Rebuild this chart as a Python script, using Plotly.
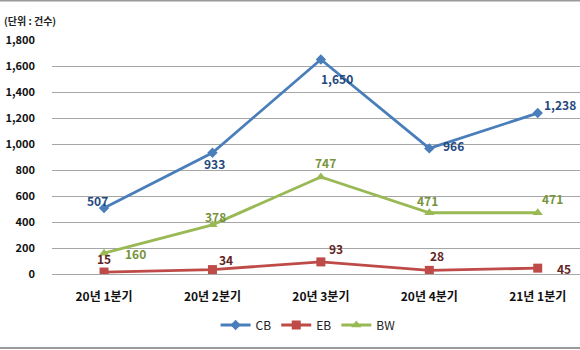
import plotly.graph_objects as go

# Quarterly counts by bond type
categories = ["20년 1분기", "20년 2분기", "20년 3분기", "20년 4분기", "21년 1분기"]
cb_values = [507, 933, 1650, 966, 1238]
eb_values = [15, 34, 93, 28, 45]
bw_values = [160, 378, 747, 471, 471]
y_ticks = [0, 200, 400, 600, 800, 1000, 1200, 1400, 1600, 1800]
unit_note = "(단위 : 건수)"

FONT = "Noto Sans CJK KR"

series = [
    # name, values, line colour, label colour, marker symbol, marker size, label offsets (px)
    ("CB", cb_values, "#4a7ebb", "#1f497d", "diamond", 8,
     [(-7, 8), (2, -11), (16, -19), (24, 3), (22, 9)]),
    ("EB", eb_values, "#be4b48", "#632523", "square", 9,
     [(0, 14), (14, 10), (15, 13), (8, 15), (26, 0)]),
    ("BW", bw_values, "#98b954", "#77933c", "triangle-up", 9,
     [(31, 0), (3, 8), (5, 14), (-2, 12), (15, 14)]),
]

fig = go.Figure()
annotations = []
for name, vals, color, lcolor, symbol, msize, offsets in series:
    fig.add_trace(go.Scatter(
        x=list(range(len(categories))), y=vals, name=name, mode="lines+markers",
        line=dict(color=color, width=2.8),
        marker=dict(symbol=symbol, size=msize, color=color),
    ))
    for i, (v, (dx, dy)) in enumerate(zip(vals, offsets)):
        annotations.append(dict(
            x=i, y=v, xref="x", yref="y", text=f"{v:,}", showarrow=False,
            xshift=dx, yshift=dy,
            font=dict(family=FONT, size=12, color=lcolor, weight="bold"),
        ))

annotations.append(dict(
    x=-0.094, y=1.085, xref="paper", yref="paper", text=unit_note,
    showarrow=False, xanchor="left", yanchor="middle",
    font=dict(family=FONT, size=10, color="#222222", weight="bold"),
))

grid = "#a6a6a6"
fig.update_layout(
    width=580, height=350,
    margin=dict(l=52, r=0, t=40, b=76),
    paper_bgcolor="white", plot_bgcolor="white",
    showlegend=True,
    legend=dict(orientation="h", x=0.485, xanchor="center", y=-0.218, yanchor="middle",
                font=dict(family=FONT, size=12, color="#222222"),
                itemwidth=30, tracegroupgap=0),
    xaxis=dict(
        range=[-0.48, 4.39], tickmode="array",
        tickvals=list(range(len(categories))), ticktext=categories,
        showgrid=False, zeroline=False, showline=False, ticks="",
        ticklabelstandoff=14,
        tickfont=dict(family=FONT, size=12, color="#111111", weight="bold"),
    ),
    yaxis=dict(
        range=[0, 1800], tickmode="array", tickvals=y_ticks,
        ticktext=[f"{t:,}" for t in y_ticks],
        showgrid=True, gridcolor=grid, gridwidth=1,
        zeroline=True, zerolinecolor=grid, zerolinewidth=1,
        showline=False, ticks="", ticklabelstandoff=16,
        tickfont=dict(family=FONT, size=11, color="#111111", weight="bold"),
    ),
    annotations=annotations,
    shapes=[
        dict(type="line", xref="paper", yref="paper", x0=-0.1, x1=1.0, y0=1.169, y1=1.169,
             line=dict(color="#9a9a9a", width=2)),
        dict(type="line", xref="paper", yref="paper", x0=-0.1, x1=1.0, y0=-0.316, y1=-0.316,
             line=dict(color="#9a9a9a", width=2)),
    ],
)

fig.write_html("out.html")
